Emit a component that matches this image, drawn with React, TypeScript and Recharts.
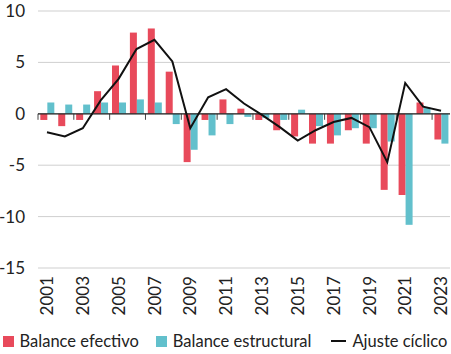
import {
  ComposedChart,
  Bar,
  Line,
  XAxis,
  YAxis,
  CartesianGrid,
  ReferenceLine,
  Legend,
} from "recharts";

const years = [
  "2001", "2002", "2003", "2004", "2005", "2006", "2007", "2008", "2009", "2010", "2011", "2012",
  "2013", "2014", "2015", "2016", "2017", "2018", "2019", "2020", "2021", "2022", "2023",
];
const balanceEfectivo = [
  -0.6, -1.2, -0.6, 2.2, 4.7, 7.9, 8.3, 4.1, -4.7, -0.6, 1.4, 0.5,
  -0.6, -1.6, -2.2, -2.9, -2.9, -1.6, -2.9, -7.4, -7.9, 1.1, -2.5,
];
const balanceEstructural = [
  1.1, 0.9, 0.9, 1.1, 1.1, 1.4, 1.1, -1.0, -3.5, -2.1, -1.0, -0.3,
  -0.4, -0.6, 0.4, -1.2, -2.1, -1.4, -1.4, -2.7, -10.8, 0.6, -2.9,
];
const ajusteCiclico = [
  -1.8, -2.2, -1.4, 1.3, 3.4, 6.3, 7.2, 5.1, -1.4, 1.6, 2.4, 1.0,
  -0.1, -1.3, -2.6, -1.6, -0.8, -0.4, -1.3, -4.7, 3.0, 0.7, 0.3,
];
const yTicks = [-15, -10, -5, 0, 5, 10];

const RED = "#e84a5b";
const TEAL = "#62c0cc";
const TEXT = "#222";
const FONT = "Lato, 'Open Sans', sans-serif";

const data = years.map((year, i) => ({
  year,
  efectivo: balanceEfectivo[i],
  estructural: balanceEstructural[i],
  ajuste: ajusteCiclico[i],
}));

// etiquetas del eje x giradas 90 grados
function YearTick({ x, y, payload }: any) {
  return (
    <text
      x={x}
      y={y}
      transform={`rotate(-90, ${x}, ${y})`}
      textAnchor="end"
      dy="0.36em"
      fill={TEXT}
      fontSize={17}
      fontFamily={FONT}
    >
      {payload.value}
    </text>
  );
}

// linea del cero con marcas cada dos años
function ZeroLine(props: any) {
  const { x1, x2, y1 } = props;
  const step = (x2 - x1) / years.length;
  const marks = [];
  for (let k = 0; k < years.length; k += 2) {
    const x = x1 + k * step;
    marks.push(<line key={k} x1={x} x2={x} y1={y1} y2={y1 + 6} stroke="#444" strokeWidth={1} />);
  }
  return (
    <g>
      {marks}
      <line x1={x1} x2={x2} y1={y1} y2={y1} stroke="#222" strokeWidth={1.2} />
    </g>
  );
}

function LegendContent() {
  const item = { display: "flex", alignItems: "center", gap: 6 } as const;
  return (
    <div
      style={{
        display: "flex",
        justifyContent: "center",
        alignItems: "center",
        gap: 17,
        height: 26,
        fontFamily: FONT,
        fontSize: 16.5,
        color: TEXT,
        whiteSpace: "nowrap",
      }}
    >
      <span style={item}>
        <span style={{ width: 11, height: 11, background: RED, display: "inline-block" }} />
        Balance efectivo
      </span>
      <span style={item}>
        <span style={{ width: 11, height: 11, background: TEAL, display: "inline-block" }} />
        Balance estructural
      </span>
      <span style={{ ...item, marginLeft: 3 }}>
        <span style={{ width: 15, height: 2, background: "#111", display: "inline-block" }} />
        Ajuste cíclico
      </span>
    </div>
  );
}

export default function App() {
  return (
    <div style={{ position: "absolute", left: 0, top: 0 }}>
      <ComposedChart
        width={451}
        height={354}
        data={data}
        margin={{ top: 11, right: 1, left: 0, bottom: 0 }}
        barCategoryGap="13%"
        barGap={0}
      >
        <CartesianGrid vertical={false} stroke="#cfcfcf" />
        <XAxis
          dataKey="year"
          interval={1}
          tick={<YearTick />}
          tickLine={false}
          axisLine={false}
          tickSize={0}
          tickMargin={8}
          height={60}
        />
        <YAxis
          domain={[-15, 10]}
          ticks={yTicks}
          width={38}
          tickLine={false}
          axisLine={false}
          tickSize={0}
          tickMargin={13}
          tick={{ fill: TEXT, fontSize: 17, fontFamily: FONT }}
          tickFormatter={(v) => String(v).replace("−", "-")}
        />
        <Bar dataKey="efectivo" name="Balance efectivo" fill={RED} isAnimationActive={false} />
        <Bar dataKey="estructural" name="Balance estructural" fill={TEAL} isAnimationActive={false} />
        <ReferenceLine y={0} shape={<ZeroLine />} />
        <Line
          type="linear"
          dataKey="ajuste"
          name="Ajuste cíclico"
          stroke="#111"
          strokeWidth={2}
          dot={false}
          isAnimationActive={false}
        />
        <Legend verticalAlign="bottom" content={<LegendContent />} />
      </ComposedChart>
    </div>
  );
}
